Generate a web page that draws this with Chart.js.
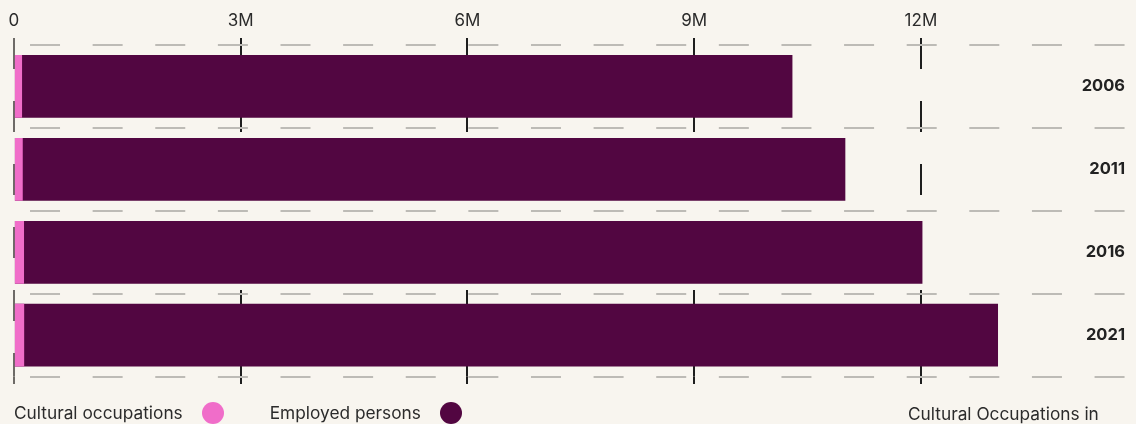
<!DOCTYPE html>
<html>
<head>
<meta charset="utf-8">
<script src="https://cdn.jsdelivr.net/npm/chart.js@4/dist/chart.umd.min.js"></script>
<style>
  html, body { margin: 0; padding: 0; background: #f8f5ef; }
  #wrap { position: relative; width: 1136px; height: 424px; overflow: hidden; }
  #chart { position: absolute; left: 0; top: 0; }
  .legend { position: absolute; left: 14px; top: 402px; display: flex; align-items: center;
            font-family: Inter, "Noto Sans", sans-serif; font-size: 17.3px; line-height: 20px; color: #2b2b2b; }
  .legend .item { display: flex; align-items: center; margin-right: 46px; }
  .legend .dot { width: 22px; height: 22px; border-radius: 50%; margin-left: 19px; }
  .caption { position: absolute; left: 908px; top: 404px; font-family: Inter, "Noto Sans", sans-serif;
             font-size: 17.3px; line-height: 20px; color: #2b2b2b; white-space: nowrap; }
</style>
</head>
<body>
<div id="wrap">
  <canvas id="chart" width="1136" height="424"></canvas>
  <div class="legend" id="legend"></div>
  <div class="caption">Cultural Occupations in</div>
</div>
<script>
// Census years shown as rows
const years = ['2006', '2011', '2016', '2021'];
// People working in cultural occupations
const culturalOccupations = [108000, 117000, 134000, 136000];
// All employed persons
const employedPersons = [10300000, 11000000, 12020000, 13020000];
// Values labelled along the top axis
const axisTicks = [0, 3000000, 6000000, 9000000, 12000000];

const PINK = '#f06dc9';
const PLUM = '#520641';
const INK = '#2b2b2b';

const tickLabel = v => (v === 0 ? '0' : (v / 1000000) + 'M');
const lineColor = ctx => (ctx.tick && ctx.tick.value === 0 ? '#6e6b67' : '#1e1e1e');

const chart = new Chart(document.getElementById('chart'), {
  type: 'bar',
  data: {
    labels: years,
    datasets: [
      { label: 'Cultural occupations', data: culturalOccupations, backgroundColor: PINK },
      { label: 'Employed persons', data: employedPersons, backgroundColor: PLUM }
    ]
  },
  options: {
    indexAxis: 'y',
    responsive: false,
    animation: false,
    events: [],
    layout: { padding: { left: 13.9, right: 11, top: 0, bottom: 0 } },
    datasets: {
      bar: { grouped: false, barPercentage: 0.757, categoryPercentage: 1, borderWidth: 0 }
    },
    plugins: { legend: { display: false }, tooltip: { enabled: false } },
    scales: {
      x: {
        type: 'linear',
        position: 'top',
        min: 0,
        max: 14700000,
        z: 1,
        afterBuildTicks: s => { s.ticks = axisTicks.map(v => ({ value: v })); },
        afterFit: s => { s.height = 45; },
        border: { display: false, dash: [31, 32], dashOffset: 7 },
        grid: { color: lineColor, lineWidth: 2, tickLength: 7, drawTicks: true, tickBorderDash: [] },
        ticks: {
          padding: 7,
          color: INK,
          font: { family: 'Inter', size: 17 },
          callback: tickLabel
        }
      },
      xBottom: {
        type: 'linear',
        axis: 'x',
        position: 'bottom',
        min: 0,
        max: 14700000,
        z: 1,
        afterBuildTicks: s => { s.ticks = axisTicks.map(v => ({ value: v })); },
        afterFit: s => { s.height = 47.3; },
        border: { display: false },
        grid: { color: lineColor, lineWidth: 2, tickLength: 7.3, drawOnChartArea: false, tickBorderDash: [] },
        ticks: { display: false }
      },
      y: {
        type: 'category',
        position: 'right',
        border: { display: false, dash: [30, 32.62], dashOffset: 46.5 },
        grid: { color: '#bdbbb6', lineWidth: 2, drawTicks: false, offset: true },
        ticks: {
          mirror: true,
          padding: 0,
          color: '#222222',
          font: { family: 'Inter', size: 16.5, weight: 'bold' }
        }
      }
    }
  }
});

// Legend: label text followed by a round swatch, built from the datasets
const legend = document.getElementById('legend');
chart.data.datasets.forEach(ds => {
  const item = document.createElement('div');
  item.className = 'item';
  const text = document.createElement('span');
  text.textContent = ds.label;
  const dot = document.createElement('span');
  dot.className = 'dot';
  dot.style.background = ds.backgroundColor;
  item.appendChild(text);
  item.appendChild(dot);
  legend.appendChild(item);
});
</script>
</body>
</html>
